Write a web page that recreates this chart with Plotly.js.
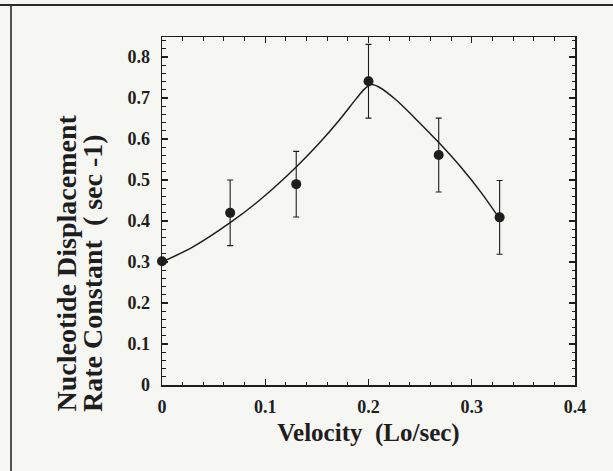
<!DOCTYPE html>
<html>
<head>
<meta charset="utf-8">
<script src="https://cdn.plot.ly/plotly-3.0.1.min.js"></script>
<style>
  html, body { margin: 0; padding: 0; background: #f6f6f3; }
  #chart { width: 613px; height: 471px; }
</style>
</head>
<body>
<div id="chart"></div>
<script>
// Measured displacement rate constants at each shortening velocity
const velocity = [0, 0.066, 0.13, 0.2, 0.268, 0.327];
const rateConstant = [0.302, 0.42, 0.49, 0.741, 0.561, 0.409];
const rateError = [0, 0.08, 0.08, 0.09, 0.09, 0.09];

// Fitted curve
const fitVelocity = [0, 0.03, 0.066, 0.095, 0.13, 0.152, 0.171, 0.188, 0.196, 0.203,
                     0.21, 0.226, 0.245, 0.269, 0.29, 0.309, 0.328];
const fitRate = [0.300, 0.337, 0.396, 0.452, 0.532, 0.589, 0.644, 0.698, 0.722, 0.733,
                 0.727, 0.697, 0.651, 0.589, 0.530, 0.470, 0.402];

const xTicks = [0, 0.1, 0.2, 0.3, 0.4];
const xTickLabels = ['0', '0.1', '0.2', '0.3', '0.4'];
const yTicks = [0, 0.1, 0.2, 0.3, 0.4, 0.5, 0.6, 0.7, 0.8];
const yTickLabels = ['0', '0.1', '0.2', '0.3', '0.4', '0.5', '0.6', '0.7', '0.8'];

const yTitleLines = ['Nucleotide Displacement', 'Rate Constant\u00a0\u00a0( sec -1)'];
const xTitle = 'Velocity\u00a0\u00a0(Lo/sec)';

// page geometry
const W = 613, H = 471;
const M = { l: 162, r: 38, t: 37, b: 86 };
const pw = W - M.l - M.r, ph = H - M.t - M.b;
const px = v => (v - M.l) / pw;          // page x pixel -> paper
const py = v => (H - M.b - v) / ph;      // page y pixel -> paper

const ink = '#1e1e1e';
const serif = 'Liberation Serif, Times New Roman, serif';
const tickFont = { family: serif, size: 18, color: ink, weight: 'bold' };

const fit = {
  x: fitVelocity, y: fitRate,
  type: 'scatter', mode: 'lines',
  line: { color: ink, width: 1.5, shape: 'spline', smoothing: 0.8 },
  hoverinfo: 'skip'
};

const points = {
  x: velocity, y: rateConstant,
  type: 'scatter', mode: 'markers',
  marker: { color: ink, size: 10 },
  error_y: { type: 'data', array: rateError, visible: true,
             color: ink, thickness: 1.1, width: 3 },
  cliponaxis: false
};

const layout = {
  width: W, height: H,
  margin: M,
  paper_bgcolor: '#f6f6f3',
  plot_bgcolor: '#f6f6f3',
  showlegend: false,
  xaxis: {
    range: [0, 0.4],
    showgrid: false, zeroline: false,
    showline: true, linecolor: ink, linewidth: 1.5, mirror: 'ticks',
    ticks: 'inside', ticklen: 6, tickwidth: 1.2, tickcolor: ink,
    tickmode: 'array', tickvals: xTicks, ticktext: xTickLabels,
    tickfont: tickFont,
    ticklabelstandoff: 5,
    minor: { dtick: 0.02, ticks: 'inside', ticklen: 3.5, tickwidth: 1, tickcolor: ink },
    title: { text: xTitle, standoff: 7,
             font: { family: serif, size: 25, color: ink, weight: 'bold' } }
  },
  yaxis: {
    range: [0, 0.849],
    showgrid: false, zeroline: false,
    showline: true, linecolor: ink, linewidth: 1.5, mirror: 'ticks',
    ticks: 'inside', ticklen: 6, tickwidth: 1.2, tickcolor: ink,
    tickmode: 'array', tickvals: yTicks, ticktext: yTickLabels,
    tickfont: tickFont,
    ticklabelstandoff: 7,
    minor: { dtick: 0.02, ticks: 'inside', ticklen: 3.5, tickwidth: 1, tickcolor: ink }
  },
  annotations: [
    { text: yTitleLines[0], xref: 'paper', yref: 'paper',
      x: px(66), y: py(414), xanchor: 'center', yanchor: 'bottom',
      textangle: -90, showarrow: false,
      font: { family: serif, size: 28, color: ink, weight: 'bold' } },
    { text: yTitleLines[1], xref: 'paper', yref: 'paper',
      x: px(92), y: py(414), xanchor: 'center', yanchor: 'bottom',
      textangle: -90, showarrow: false,
      font: { family: serif, size: 28, color: ink, weight: 'bold' } }
  ],
  shapes: [
    // page frame along the top and left edges
    { type: 'line', xref: 'paper', yref: 'paper',
      x0: px(0), x1: px(W), y0: py(5), y1: py(5),
      line: { color: '#2a2a2a', width: 2 } },
    { type: 'line', xref: 'paper', yref: 'paper',
      x0: px(11), x1: px(11), y0: py(5), y1: py(H),
      line: { color: '#2a2a2a', width: 1.6 } }
  ]
};

Plotly.newPlot('chart', [fit, points], layout, { displayModeBar: false, staticPlot: true });
</script>
</body>
</html>
